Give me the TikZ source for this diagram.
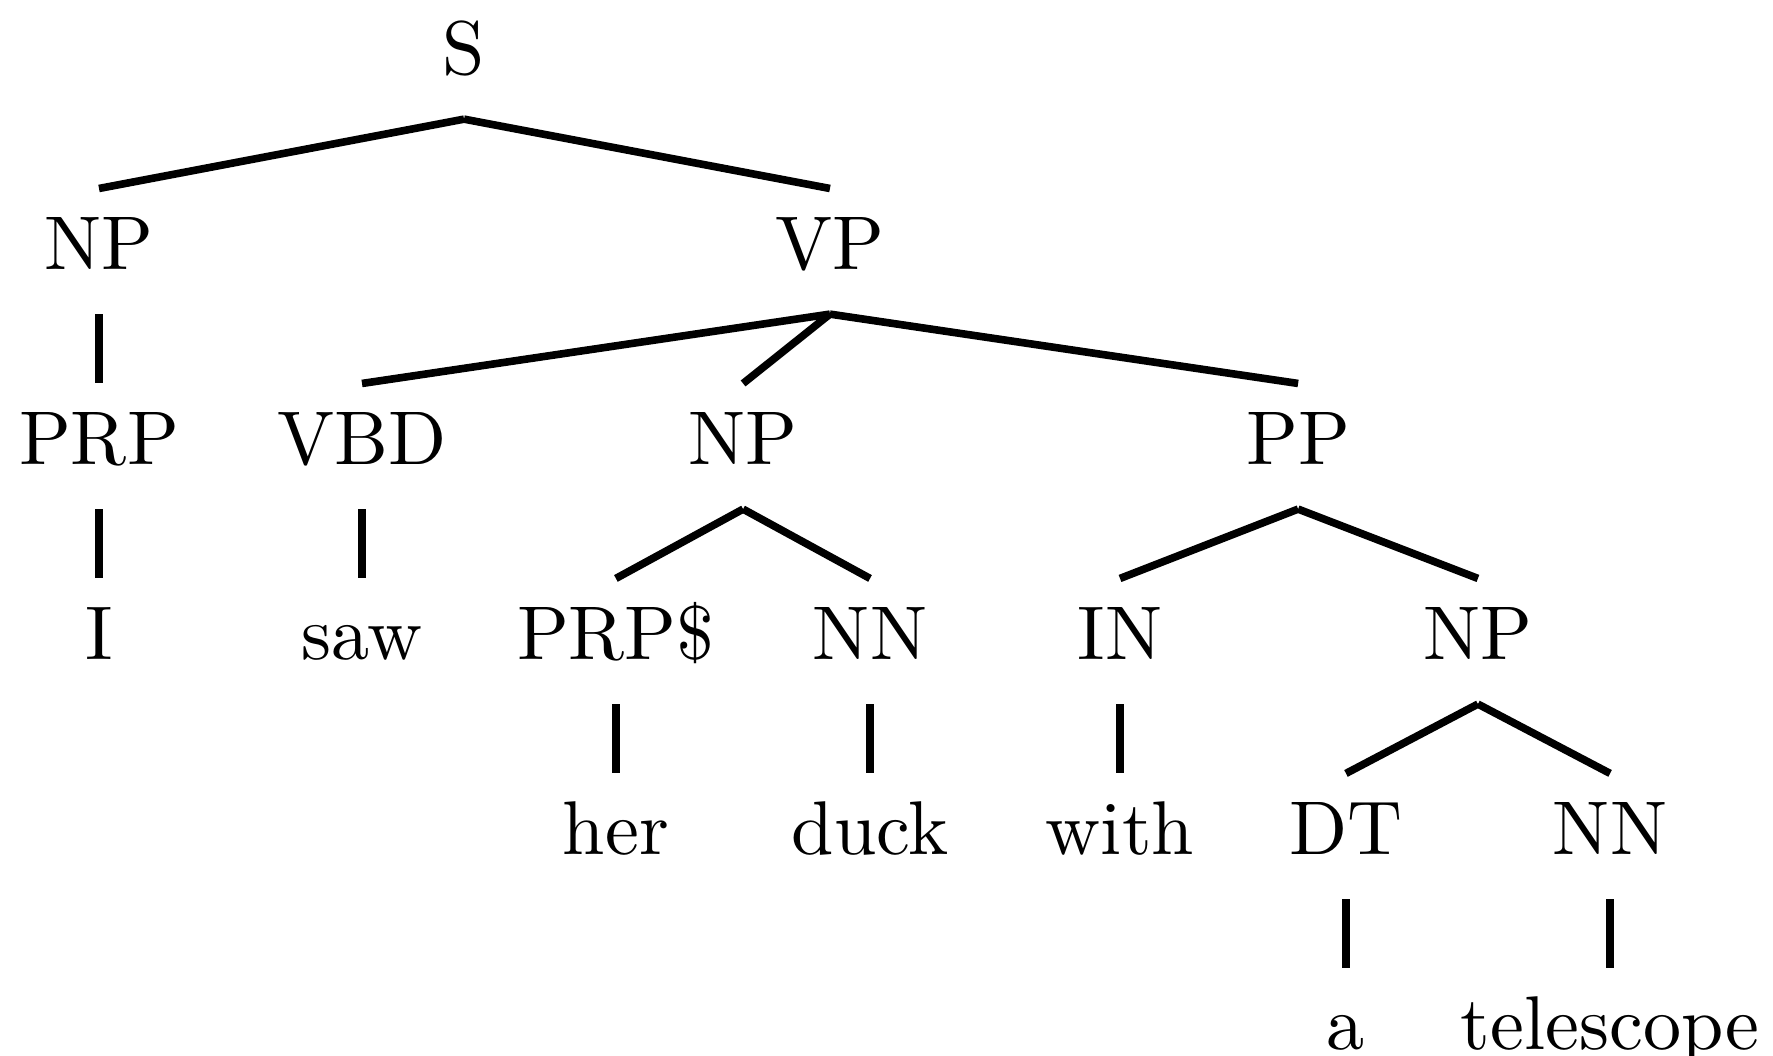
\documentclass[tikz,border=0pt]{standalone}
\usepackage{amsmath}
\usepackage{tikz}

\begin{document}
\begin{tikzpicture}[tag/.style={inner sep=0pt, anchor=base, text height=10.5pt, text depth=5.6pt},
	branch/.style={line width=1pt}]
	\useasboundingbox (0,0.346) rectangle (8.184,-4.524);
	\node[tag] (s) at (2.142,0) {S};
	\node[tag] (np) at (0.457,-0.9) {NP};
	\node[tag] (vp) at (3.831,-0.9) {VP};
	\node[tag] (prp) at (0.457,-1.8) {PRP};
	\node[tag] (vbd) at (1.671,-1.8) {VBD};
	\node[tag] (npobj) at (3.430,-1.8) {NP};
	\node[tag] (pp) at (5.992,-1.8) {PP};
	\node[tag] (i) at (0.457,-2.7) {I};
	\node[tag] (saw) at (1.671,-2.7) {saw};
	\node[tag] (prps) at (2.843,-2.7) {PRP\$};
	\node[tag] (nn) at (4.016,-2.7) {NN};
	\node[tag] (in) at (5.170,-2.7) {IN};
	\node[tag] (nppp) at (6.822,-2.7) {NP};
	\node[tag] (her) at (2.843,-3.6) {her};
	\node[tag] (duck) at (4.016,-3.6) {duck};
	\node[tag] (with) at (5.170,-3.6) {with};
	\node[tag] (dt) at (6.213,-3.6) {DT};
	\node[tag] (nnpp) at (7.432,-3.6) {NN};
	\node[tag] (a) at (6.213,-4.5) {a};
	\node[tag] (telescope) at (7.432,-4.5) {telescope};
	\draw[branch] (s.south) -- (np.north);
	\draw[branch] (s.south) -- (vp.north);
	\draw[branch] (np.south) -- (prp.north);
	\draw[branch] (vp.south) -- (vbd.north);
	\draw[branch] (vp.south) -- (npobj.north);
	\draw[branch] (vp.south) -- (pp.north);
	\draw[branch] (prp.south) -- (i.north);
	\draw[branch] (vbd.south) -- (saw.north);
	\draw[branch] (npobj.south) -- (prps.north);
	\draw[branch] (npobj.south) -- (nn.north);
	\draw[branch] (pp.south) -- (in.north);
	\draw[branch] (pp.south) -- (nppp.north);
	\draw[branch] (prps.south) -- (her.north);
	\draw[branch] (nn.south) -- (duck.north);
	\draw[branch] (in.south) -- (with.north);
	\draw[branch] (nppp.south) -- (dt.north);
	\draw[branch] (nppp.south) -- (nnpp.north);
	\draw[branch] (dt.south) -- (a.north);
	\draw[branch] (nnpp.south) -- (telescope.north);
\end{tikzpicture}
\end{document}
